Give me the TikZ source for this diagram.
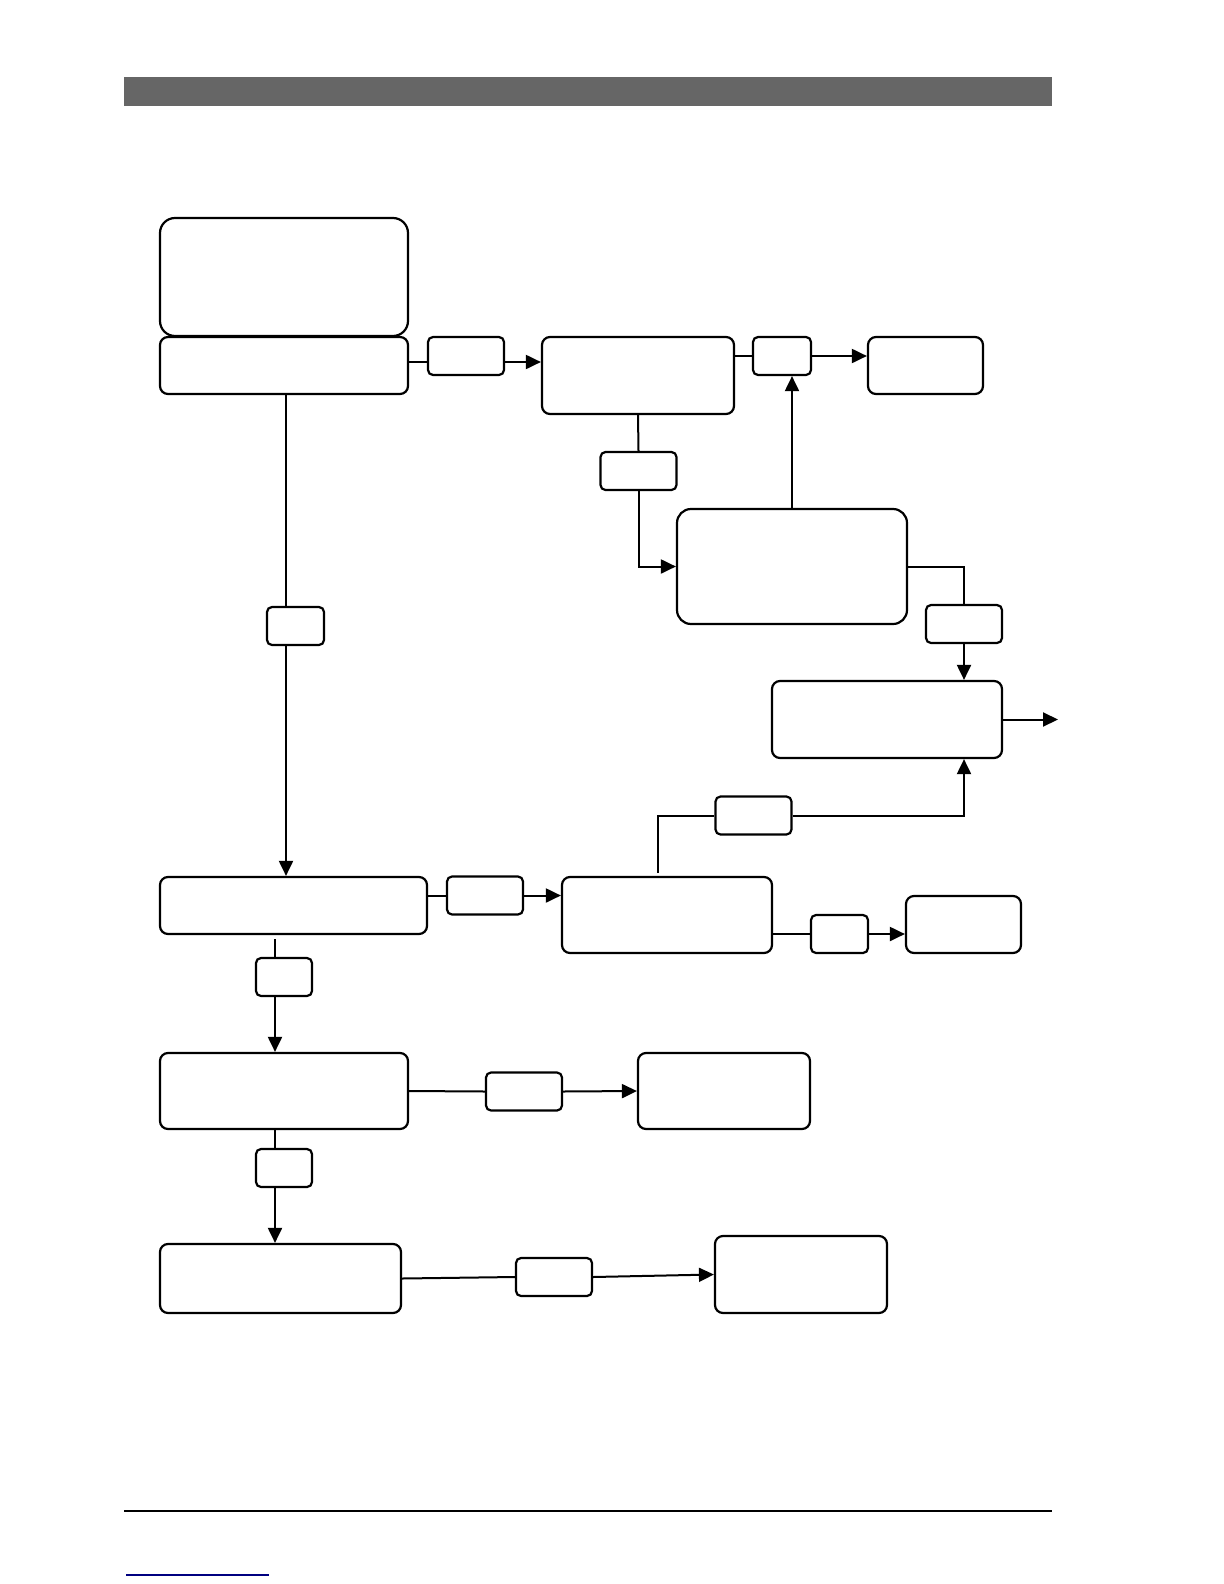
\documentclass[tikz,border=0pt]{standalone}
\usepackage{tikz}
\usetikzlibrary{arrows.meta,positioning}

\begin{document}
\begin{tikzpicture}[x=0.5pt,y=-0.5pt,
    box/.style={draw, line width=1.1pt, rounded corners=4pt, inner sep=0pt},
    tag/.style={draw, line width=1.1pt, rounded corners=2.5pt, inner sep=0pt,
      minimum width=38pt, minimum height=19pt},
    link/.style={line width=1pt},
    arr/.style={line width=1pt, -{Triangle[length=7.5pt,width=7pt]}}]
  \useasboundingbox (0,0) rectangle (1224,1584);

  % page header and footer
  \fill[black!60] (124,77) rectangle (1052,106);
  \draw[line width=0.7pt] (124,1511) -- (1052,1511);
  \draw[blue!50!black, line width=0.8pt] (126,1575) -- (269,1575);

  % top row
  \node[box, rounded corners=7.5pt, minimum width=124pt, minimum height=59pt] (A) at (284,277) {};
  \node[box, minimum width=124pt, minimum height=28.5pt] (B) at (284,365.5) {};
  \node[tag] (s1) at (466,356) {};
  \node[box, minimum width=96pt, minimum height=38.5pt] (C) at (638,375.5) {};
  \node[tag, minimum width=29pt] (s2) at (782,356) {};
  \node[box, minimum width=57.5pt, minimum height=28.5pt] (D) at (925.5,365.5) {};
  \node[tag] (s3) at (638.5,471) {};
  \node[box, rounded corners=7pt, minimum width=115pt, minimum height=57.5pt] (E) at (792,566.5) {};
  \node[tag] (s4) at (964,624) {};
  \node[box, minimum width=115pt, minimum height=38.5pt] (F) at (887,719.5) {};
  \coordinate (out) at (1058,719.5);

  % left column
  \node[tag, minimum width=28.5pt] (s9) at (295.5,626) {};
  \node[box, minimum width=133.5pt, minimum height=28.5pt] (G) at (293.5,905.5) {};
  \node[tag] (s6) at (485,895.5) {};
  \node[box, minimum width=105pt, minimum height=38pt] (H) at (667,915) {};
  \node[tag] (s5) at (753.5,815.5) {};
  \node[tag, minimum width=28.5pt] (s7) at (839.5,934) {};
  \node[box, minimum width=57.5pt, minimum height=28.5pt] (I) at (963.5,924.5) {};
  \node[tag, minimum width=28pt] (s8) at (284,977) {};
  \node[box, minimum width=124pt, minimum height=38pt] (J) at (284,1091) {};
  \node[tag] (s10) at (524,1091.5) {};
  \node[box, minimum width=86pt, minimum height=38pt] (K) at (724,1091) {};
  \node[tag, minimum width=28pt] (s11) at (284,1168) {};
  \node[box, minimum width=120.5pt, minimum height=34.5pt] (L) at (280.5,1278.5) {};
  \node[tag] (s12) at (554,1277) {};
  \node[box, minimum width=86pt, minimum height=38.5pt] (M) at (801,1274.5) {};

  \coordinate (bx) at (286,394);
  \coordinate (hs) at (658,873);
  \coordinate (gx) at (275,939);
  \coordinate (jx) at (275,1129);

  % connectors
  \draw[link] (B.east |- 0,362) -- (s1.west |- 0,362);
  \draw[arr] (s1.east |- 0,362) -- (C.west |- 0,362);
  \draw[link] (C.east |- s2) -- (s2.west);
  \draw[arr] (s2.east) -- (D.west |- s2);
  \draw[link] (C.south) -- (s3.north);
  \draw[arr] (s3.south) |- (E.west);
  \draw[arr] (E.north) -- (E.north |- s2.south);
  \draw[link] (E.east) -| (s4.north);
  \draw[arr] (s4.south) -- (s4.south |- F.north);
  \draw[arr] (F.east) -- (out);
  \draw[link] (hs) |- (s5.west);
  \draw[arr] (s5.east) -| (F.south -| s4);

  \draw[link] (bx) -- (bx |- s9.north);
  \draw[arr] (bx |- s9.south) -- (bx |- G.north);
  \draw[link] (G.east |- s6) -- (s6.west);
  \draw[arr] (s6.east) -- (H.west |- s6);
  \draw[link] (H.east |- s7) -- (s7.west);
  \draw[arr] (s7.east) -- (I.west |- s7);
  \draw[link] (gx) -- (gx |- s8.north);
  \draw[arr] (gx |- s8.south) -- (gx |- J.north);
  \draw[link] (J.east) -- (s10.west);
  \draw[arr] (s10.east) -- (K.west);
  \draw[link] (jx) -- (jx |- s11.north);
  \draw[arr] (jx |- s11.south) -- (jx |- L.north);
  \draw[link] (L.east) -- (s12.west);
  \draw[arr] (s12.east) -- (M.west);
\end{tikzpicture}
\end{document}
